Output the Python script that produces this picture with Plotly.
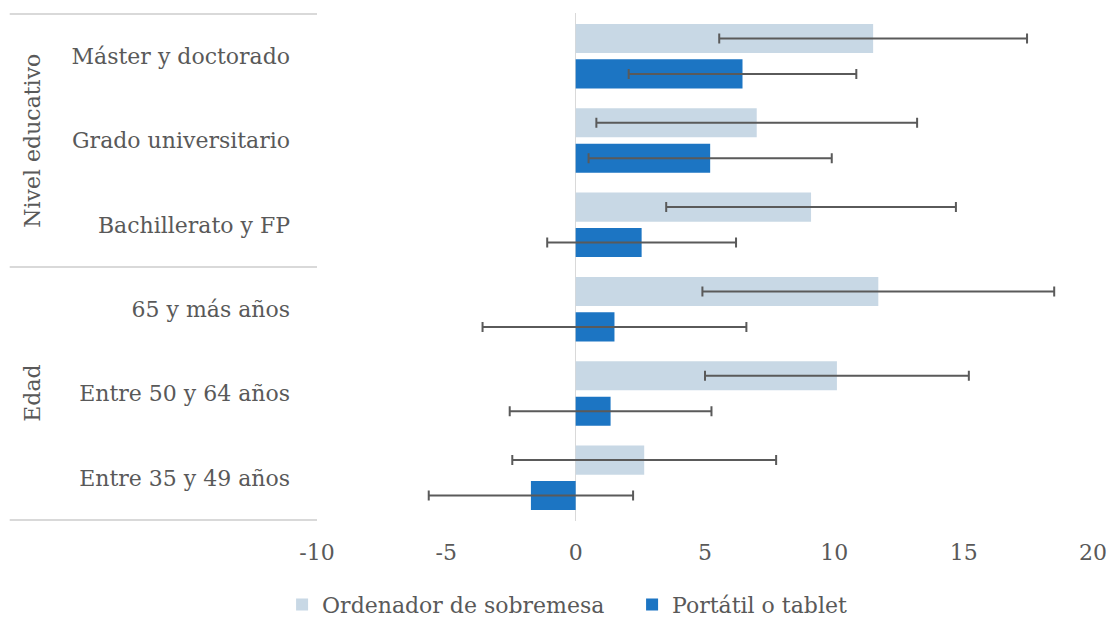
import plotly.graph_objects as go

# Categories, top to bottom
categorias = [
    "Máster y doctorado",
    "Grado universitario",
    "Bachillerato y FP",
    "65 y más años",
    "Entre 50 y 64 años",
    "Entre 35 y 49 años",
]
grupos = ["Nivel educativo", "Edad"]
grupo_centro = [1, 4]          # category index at the middle of each group
separadores = [-0.5, 2.5, 5.5]  # category boundaries between groups

serie_sobremesa = "Ordenador de sobremesa"
serie_portatil = "Portátil o tablet"

sobremesa = [11.5, 7.0, 9.1, 11.7, 10.1, 2.65]
sobremesa_err = [5.95, 6.2, 5.6, 6.8, 5.1, 5.1]
portatil = [6.45, 5.2, 2.55, 1.5, 1.35, -1.73]
portatil_err = [4.4, 4.7, 3.65, 5.1, 3.9, 3.95]

x_ticks = [-10, -5, 0, 5, 10, 15, 20]

FONT = "DejaVu Serif"
TXT = "#595959"
ERR = "#5a5a5a"

fig = go.Figure()
fig.add_trace(go.Bar(
    name=serie_sobremesa, y=categorias, x=sobremesa, orientation="h",
    marker=dict(color="#c8d8e5", line=dict(width=0)),
    error_x=dict(type="data", array=sobremesa_err, color=ERR, thickness=2, width=5),
))
fig.add_trace(go.Bar(
    name=serie_portatil, y=categorias, x=portatil, orientation="h",
    marker=dict(color="#1c75c3", line=dict(width=0)),
    error_x=dict(type="data", array=portatil_err, color=ERR, thickness=2, width=5),
))

# Horizontal separators in the label column
for yb in separadores:
    fig.add_shape(type="line", xref="paper", yref="y",
                  x0=-0.396, x1=0.0, y0=yb, y1=yb,
                  line=dict(color="#d9d9d9", width=2))

# Rotated group labels
for g, c in zip(grupos, grupo_centro):
    fig.add_annotation(text=g, xref="paper", yref="y", x=-0.367, y=c,
                       xanchor="center", yanchor="middle",
                       textangle=-90, showarrow=False,
                       font=dict(family=FONT, size=22, color=TXT))

fig.update_layout(
    width=1115, height=623,
    paper_bgcolor="white", plot_bgcolor="white",
    margin=dict(l=317, r=22, t=13, b=102, autoexpand=False),
    barmode="group", bargap=0.16, bargroupgap=0.18,
    font=dict(family=FONT, size=22, color=TXT),
    showlegend=True,
    legend=dict(orientation="h", x=-0.045, xanchor="left", y=-0.165, yanchor="middle",
                font=dict(family=FONT, size=22, color=TXT), itemwidth=30,
                entrywidth=305, traceorder="normal"),
)
fig.update_xaxes(range=[-10, 20], tickvals=x_ticks, ticktext=[str(v) for v in x_ticks],
                 showgrid=False, showline=False, zeroline=True,
                 zerolinecolor="#d9d9d9", zerolinewidth=1, ticks="",
                 ticklabelstandoff=16)
fig.update_yaxes(categoryorder="array", categoryarray=categorias, autorange="reversed",
                 showgrid=False, showline=False, zeroline=False, ticks="",
                 ticklabelstandoff=26)

fig.write_html("out.html")
